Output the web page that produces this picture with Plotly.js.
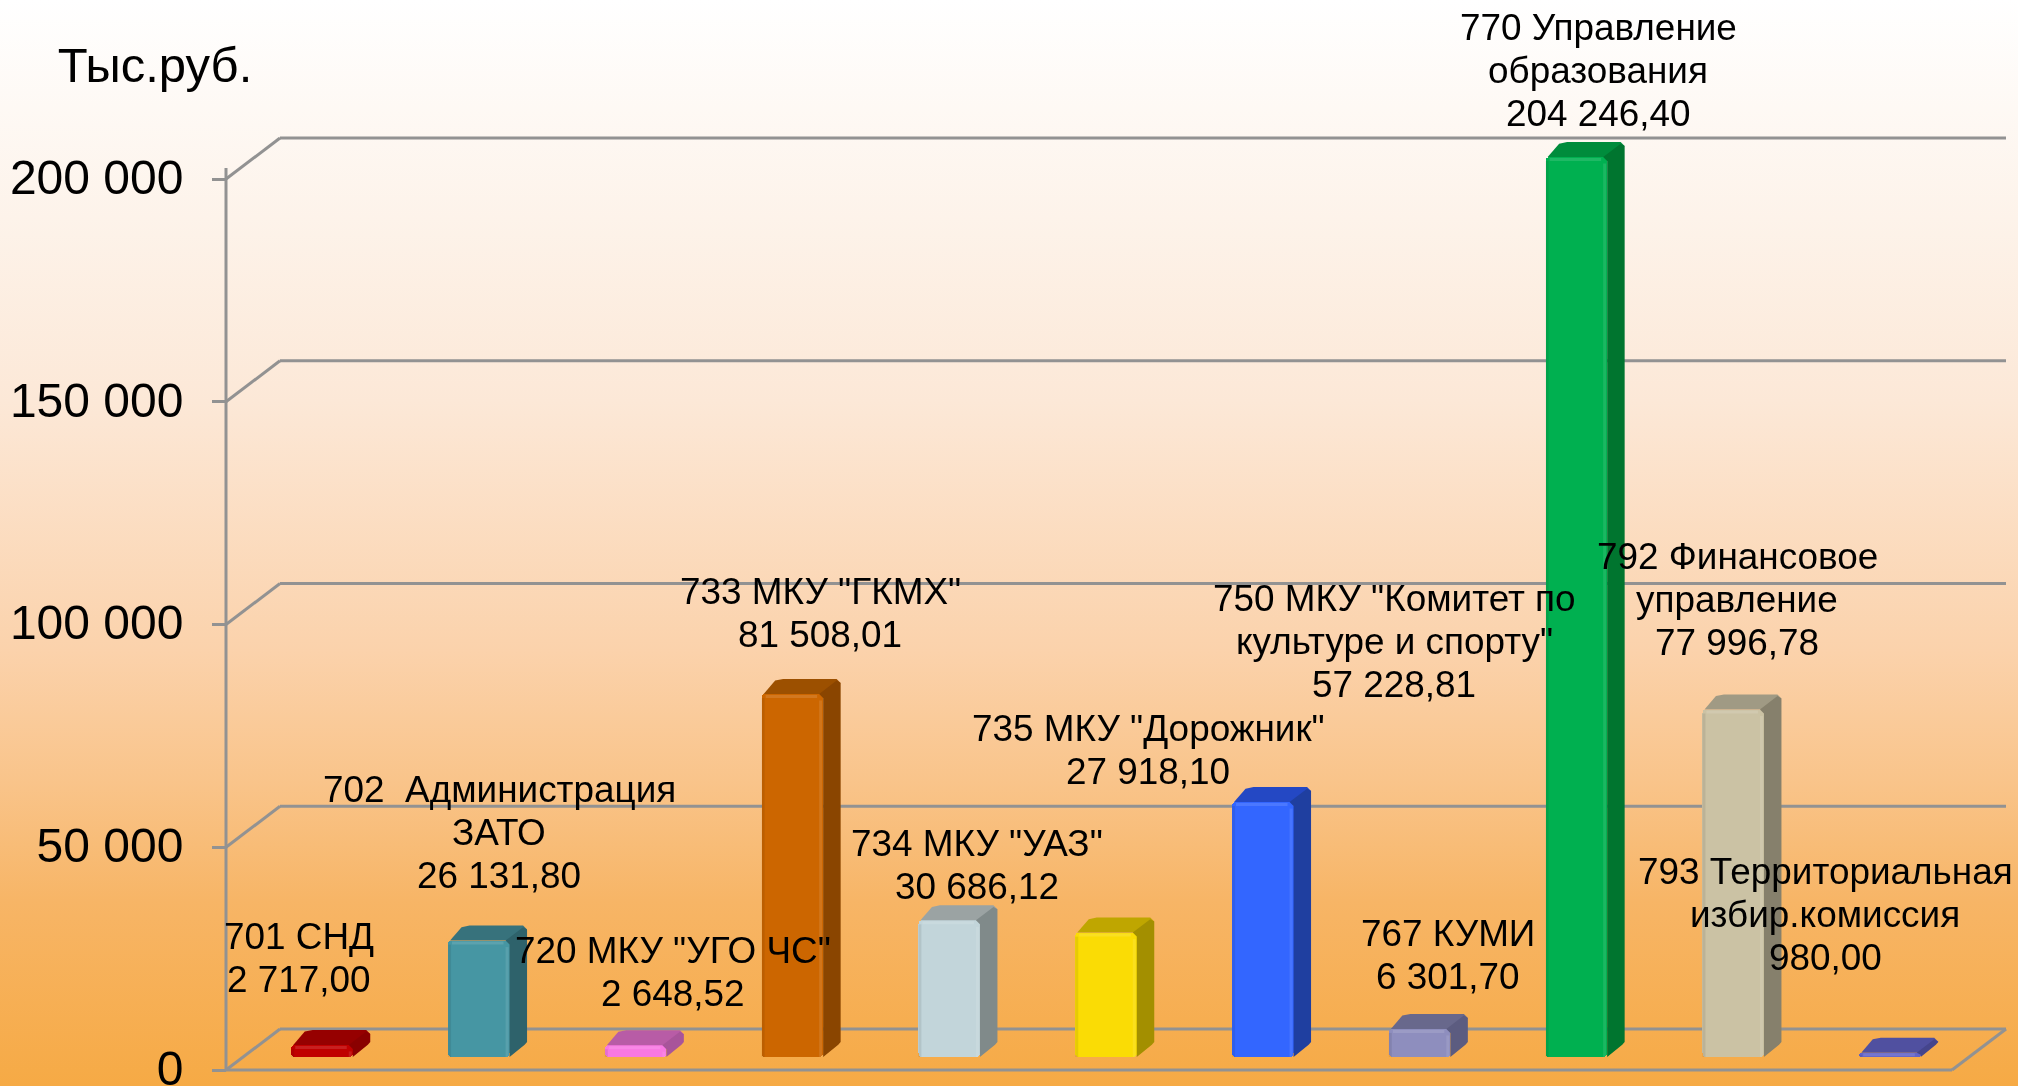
<!DOCTYPE html>
<html><head><meta charset="utf-8">
<script src="https://cdn.plot.ly/plotly-3.0.1.min.js"></script>
<style>
html,body{margin:0;padding:0;width:2018px;height:1086px;overflow:hidden;
background:linear-gradient(to bottom,#ffffff 0%,#fdf3ea 20%,#fce8d7 37%,#fbd2ab 60%,#f9c48a 72%,#f7b566 83%,#f6aa45 100%);}
#c{width:2018px;height:1086px;filter:blur(0.5px);}
</style></head><body><div id="c"></div>
<script>
// ---- data ----
const categories = ['701 СНД','702\u00a0\u00a0Администрация|ЗАТО','720 МКУ "УГО ЧС"','733 МКУ "ГКМХ"','734 МКУ "УАЗ"','735 МКУ "Дорожник"','750 МКУ "Комитет по|культуре и спорту"','767 КУМИ','770 Управление|образования','792 Финансовое|управление','793 Территориальная|избир.комиссия'];
const values = [2717.00,26131.80,2648.52,81508.01,30686.12,27918.10,57228.81,6301.70,204246.40,77996.78,980.00];
const valueLabels = ['2 717,00','26 131,80','2 648,52','81 508,01','30 686,12','27 918,10','57 228,81','6 301,70','204 246,40','77 996,78','980,00'];
const tickValues = [0,50000,100000,150000,200000];
const axisTitle = 'Тыс.руб.';
const chartCeiling = 202000; // the original chart's axis stops here, and clips the tallest bar
// ---- styles ----
const frontColors = ['#c00000','#4696a3','#f878e2','#cc6600','#c2d5da','#fadc05','#3366ff','#8e8ebe','#00b050','#cbc2a4','#6464c8'];
const sideColors  = ['#8a0000','#2e626b','#a8549a','#8a4500','#808a8a','#a38f00','#1f3fa0','#5c5c80','#00752f','#86806c','#45458c'];
const topColors   = ['#960000','#37727c','#b85ca6','#9c5000','#9ba3a3','#bfa600','#2448c4','#68688c','#008c3c','#a09a84','#5050a0'];
// ---- geometry (pixels on the page, converted through the axis scales) ----
const W=2018,H=1086,PL=200,PB=6;
const pxPerCat=156.8, cat0=322, pxPerUnit=891/200000, zeroPx=1070;
const x0=(PL-cat0)/pxPerCat, x1=(W-cat0)/pxPerCat;
const y0=-(H-PB-zeroPx)/pxPerUnit, y1=zeroPx/pxPerUnit;
const ux=p=>p/pxPerCat, uy=p=>p/pxPerUnit;
const toX=p=>(p-cat0)/pxPerCat, toY=p=>(zeroPx-p)/pxPerUnit;
const barW=ux(61.5), baseOff=uy(13), dx=ux(17.5), dy=uy(15), wallX=ux(54), wallY=uy(41);
// label line centres: [x, first line y] on the page
const labelPos=[[299,936],[499,789],[673,950],[820,591],[977,843],[1148,728],[1394,598],[1448,933],[1598,27],[1737,556],[1825,871]];
const lineStep=43.2;
const gridColor='#929292';

const idx=categories.map((_,i)=>i);
const drawn=values.map(v=>Math.min(v,chartCeiling));
const traces=[{type:'bar',x:idx,y:drawn,base:idx.map(()=>baseOff),width:barW,
  marker:{color:frontColors,line:{width:0},cornerradius:4},hoverinfo:'skip',showlegend:false}];
function poly(xs,ys,col){traces.push({type:'scatter',mode:'lines',x:xs,y:ys,fill:'toself',fillcolor:col,
  line:{width:0,color:col},hoverinfo:'skip',showlegend:false});}
function seg(xs,ys,col,w){traces.push({type:'scatter',mode:'lines',x:xs,y:ys,line:{width:w,color:col},hoverinfo:'skip',showlegend:false});}
idx.forEach(i=>{
  const l=i-barW/2,r=i+barW/2,b=baseOff,t=drawn[i]+baseOff,cx=ux(4),cy=uy(4);
  const rise=Math.min(cy,drawn[i]/2);
  // top face
  poly([l+ux(2),l+dx-cx,l+dx+cx,r+dx-cx,r+dx,r,r-ux(4)],[t,t+dy-cy*.4,t+dy,t+dy,t+dy-cy,t,t],topColors[i]);
  // side face, which also closes the rounded front corner
  poly([r-ux(4),r+dx-cx,r+dx,r+dx,r+dx-cx*.6,r,r],[t,t+dy-cy*.4,t+dy-cy,b+dy,b+dy-cy*.7,b,t-rise],sideColors[i]);
  // bevel
  const h=Math.min(uy(2.5),drawn[i]/2);
  seg([l+ux(4),r-ux(6)],[t-h,t-h],'rgba(255,255,255,0.12)',3);
  seg([r-ux(2.5),r-ux(2.5)],[b,t-rise-h],'rgba(255,255,255,0.10)',3);
  seg([l+ux(1.5),l+ux(1.5)],[b,t-rise],'rgba(0,0,0,0.08)',3);
});
// walls
const shapes=[];
const ln=(xa,ya,xb,yb)=>shapes.push({type:'line',layer:'below',xref:'x',yref:'y',x0:xa,y0:ya,x1:xb,y1:yb,line:{color:gridColor,width:3}});
const axX=toX(226), floorR=toX(1952);
tickValues.forEach(v=>{
  ln(axX,v,axX+wallX,v+wallY);
  ln(axX+wallX,v+wallY,floorR+wallX,v+wallY);
});
ln(axX,0,floorR,0);
ln(floorR,0,floorR+wallX,wallY);
ln(axX,0,axX,toY(168));
// labels
const annotations=[];
idx.forEach(i=>{
  const lines=categories[i].split('|').concat(valueLabels[i]);
  lines.forEach((s,j)=>annotations.push({xref:'x',yref:'y',x:toX(labelPos[i][0]),y:toY(labelPos[i][1]+j*lineStep),
    text:s,showarrow:false,xanchor:'center',yanchor:'middle',font:{size:36.9,color:'#000'},borderpad:0}));
});
const layout={width:W,height:H,margin:{l:PL,r:0,t:0,b:PB,pad:0},
  paper_bgcolor:'rgba(0,0,0,0)',plot_bgcolor:'rgba(0,0,0,0)',
  separators:', ',showlegend:false,hovermode:false,
  font:{family:'"Liberation Sans",Arial,sans-serif',color:'#000'},
  title:{text:axisTitle,font:{size:49,color:'#000'},x:155/W,xanchor:'center',xref:'container',y:1-65/H,yanchor:'middle',yref:'container'},
  xaxis:{range:[x0,x1],visible:false,fixedrange:true},
  yaxis:{range:[y0,y1],anchor:'free',position:(226-PL)/(W-PL),tickmode:'array',tickvals:tickValues,
    ticktext:tickValues.map(v=>v===0?'0':String(v/1000)+' 000'),
    showgrid:false,zeroline:false,showline:false,ticks:'outside',ticklen:14,tickwidth:3,tickcolor:gridColor,
    tickfont:{size:48,color:'#000'},ticklabelstandoff:19,ticklabeloverflow:'allow',ticklabelshift:-2,fixedrange:true},
  bargap:0,shapes,annotations};
Plotly.newPlot('c',traces,layout,{displayModeBar:false,staticPlot:true});
</script></body></html>
